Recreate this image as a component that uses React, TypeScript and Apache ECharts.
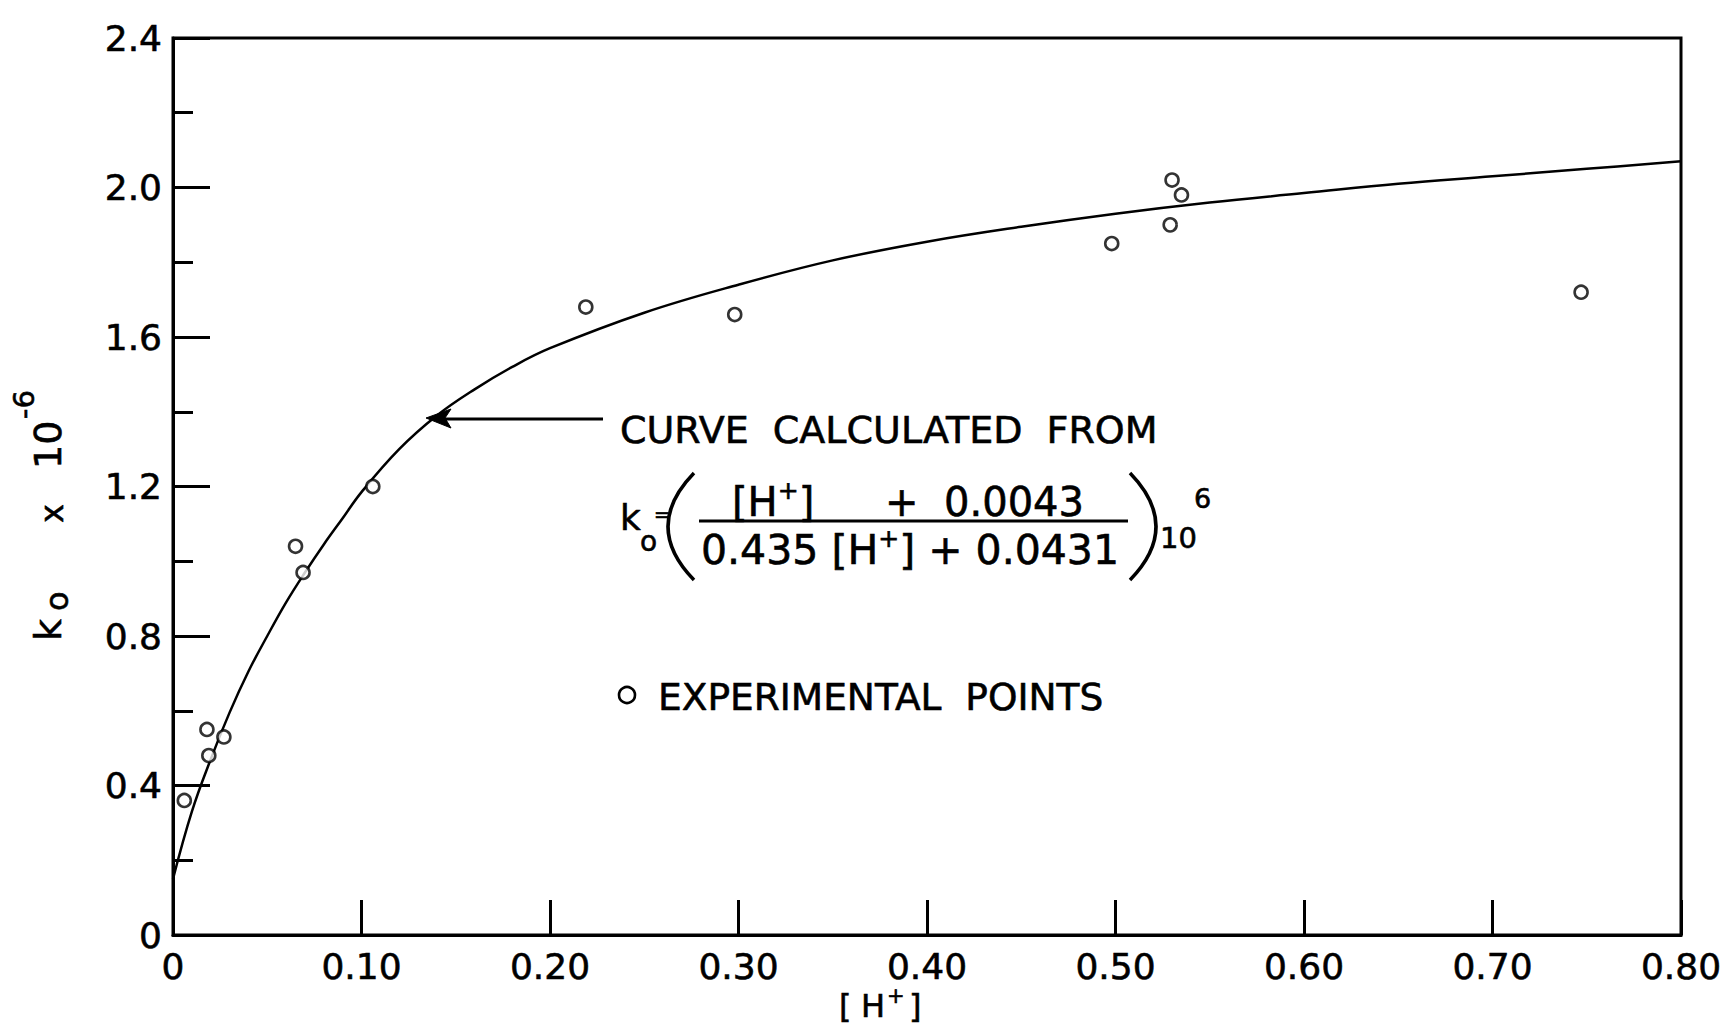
import React, { useEffect, useRef } from "react";
import * as echarts from "echarts";

// Experimental rate constants: [H+] (mol/L) and k0 x 10^-6
const hIon = [0.006, 0.018, 0.019, 0.027, 0.065, 0.069, 0.106, 0.219, 0.298, 0.498, 0.530, 0.529, 0.535, 0.747];
const kExp = [0.36, 0.55, 0.48, 0.53, 1.04, 0.97, 1.20, 1.68, 1.66, 1.85, 2.02, 1.90, 1.98, 1.72];

// Calculated curve, sampled along the plotted line
const curveH = [0, 0.01, 0.02, 0.03, 0.04, 0.05, 0.06, 0.07, 0.08, 0.09, 0.10, 0.12, 0.14, 0.16, 0.18, 0.20, 0.25, 0.30, 0.35, 0.40, 0.45, 0.50, 0.55, 0.60, 0.65, 0.70, 0.75, 0.80];
const curveK = [0.15, 0.33, 0.47, 0.595, 0.705, 0.80, 0.89, 0.97, 1.045, 1.115, 1.185, 1.30, 1.39, 1.46, 1.52, 1.57, 1.665, 1.74, 1.805, 1.855, 1.895, 1.93, 1.96, 1.985, 2.01, 2.03, 2.05, 2.07];

const FONT = '"DejaVu Sans", Verdana, sans-serif';
const INK = "#000";
// slight outline to give the lettering a heavier pen stroke
const PEN = { stroke: INK, lineWidth: 0.6 };

function txt(text: string, x: number, y: number, size: number, align = "left") {
  return {
    type: "text",
    x,
    y,
    z: 10,
    style: { text, fontFamily: FONT, fontSize: size, fill: INK, align, verticalAlign: "middle", ...PEN },
  };
}

export default function App() {
  const ref = useRef<HTMLDivElement>(null);

  useEffect(() => {
    document.body.style.margin = "0";
    const chart = echarts.init(ref.current!, null, { renderer: "svg" });

    const supRich = (main: number, sup: number, box: number) => ({
      m: { fontFamily: FONT, fontSize: main, fill: INK, lineHeight: box, verticalAlign: "bottom", ...PEN },
      s: { fontFamily: FONT, fontSize: sup, fill: INK, lineHeight: sup, verticalAlign: "top", ...PEN },
    });

    chart.setOption({
      animation: false,
      backgroundColor: "#fff",
      grid: {
        left: 173,
        right: 45,
        top: 38,
        bottom: 91,
        containLabel: false,
        outerBoundsMode: "none",
        show: true,
        borderColor: INK,
        borderWidth: 3,
      },
      xAxis: {
        type: "value",
        min: 0,
        max: 0.8,
        interval: 0.1,
        axisLine: { show: true, onZero: false, lineStyle: { color: INK, width: 3 } },
        axisTick: { show: true, inside: true, length: 35, lineStyle: { color: INK, width: 3 } },
        splitLine: { show: false },
        axisLabel: {
          color: INK,
          fontFamily: FONT,
          fontSize: 36,
          margin: 13,
          textBorderColor: INK,
          textBorderWidth: 0.6,
          formatter: (v: number) => (v === 0 ? "0" : v.toFixed(2)),
        },
      },
      yAxis: {
        type: "value",
        min: 0,
        max: 2.4,
        interval: 0.4,
        axisLine: { show: true, lineStyle: { color: INK, width: 3 } },
        axisTick: { show: true, inside: true, length: 37, lineStyle: { color: INK, width: 3 } },
        minorTick: { show: true, splitNumber: 2, length: 20, lineStyle: { color: INK, width: 3 } },
        splitLine: { show: false },
        minorSplitLine: { show: false },
        axisLabel: {
          color: INK,
          fontFamily: FONT,
          fontSize: 36,
          margin: 11,
          textBorderColor: INK,
          textBorderWidth: 0.6,
          formatter: (v: number) => (v === 0 ? "0" : v.toFixed(1)),
        },
      },
      series: [
        {
          name: "calculated",
          type: "line",
          data: curveH.map((h, i) => [h, curveK[i]]),
          smooth: 0.4,
          showSymbol: false,
          lineStyle: { color: INK, width: 2.5 },
          z: 2,
        },
        {
          name: "experimental",
          type: "scatter",
          data: hIon.map((h, i) => [h, kExp[i]]),
          symbol: "circle",
          symbolSize: 13,
          itemStyle: { color: "#fff", borderColor: INK, borderWidth: 2.6 },
          z: 3,
        },
      ],
      graphic: [
        // x-axis title: [H+]
        txt("[", 839, 1006, 32),
        txt("H", 861, 1006, 32),
        txt("+", 887, 996, 21),
        txt("]", 909, 1006, 32),
        // y-axis title: k_o x 10^-6, reading bottom to top
        {
          type: "group",
          x: 48,
          y: 641,
          rotation: Math.PI / 2,
          children: [
            txt("k", 0, 0, 38),
            txt("o", 30, 9, 32),
            txt("x", 118, 4, 32),
            txt("10", 172, 0, 38),
            txt("-6", 222, -24, 29),
          ],
        },
        // arrow pointing at the calculated curve
        { type: "line", z: 10, shape: { x1: 603, y1: 419, x2: 440, y2: 419 }, style: { stroke: INK, lineWidth: 3 } },
        {
          type: "polygon",
          z: 10,
          shape: { points: [[426, 418], [451, 409], [445, 418], [451, 428]] },
          style: { fill: INK, stroke: INK, lineWidth: 1 },
        },
        txt("CURVE  CALCULATED  FROM", 620, 430, 38),
        // k0 = ( numerator / denominator ) 10^6
        txt("k", 620, 517, 36),
        txt("o", 640, 541, 28),
        txt("=", 654, 514, 19),
        {
          type: "bezierCurve",
          z: 10,
          shape: { x1: 694, y1: 473, x2: 694, y2: 580, cpx1: 642, cpy1: 526.5 },
          style: { stroke: INK, lineWidth: 3.5, fill: "none" },
        },
        {
          type: "text",
          x: 732,
          y: 500,
          z: 10,
          style: {
            text: "{m|[H}{s|+}{m|]}",
            align: "left",
            verticalAlign: "middle",
            rich: supRich(40, 25, 44),
          },
        },
        txt("+  0.0043", 1084, 502, 40, "right"),
        { type: "line", z: 10, shape: { x1: 699, y1: 521, x2: 1128, y2: 521 }, style: { stroke: INK, lineWidth: 3 } },
        {
          type: "text",
          x: 910,
          y: 548,
          z: 10,
          style: {
            text: "{m|0.435 [H}{s|+}{m|] + 0.0431}",
            align: "center",
            verticalAlign: "middle",
            rich: supRich(41, 25, 45),
          },
        },
        {
          type: "bezierCurve",
          z: 10,
          shape: { x1: 1130, y1: 473, x2: 1130, y2: 580, cpx1: 1182, cpy1: 526.5 },
          style: { stroke: INK, lineWidth: 3.5, fill: "none" },
        },
        txt("10", 1160, 538, 29),
        txt("6", 1194, 498, 27),
        // legend
        { type: "circle", z: 10, shape: { cx: 627, cy: 695, r: 8 }, style: { fill: "#fff", stroke: INK, lineWidth: 2.6 } },
        txt("EXPERIMENTAL  POINTS", 658, 697, 37.5),
      ],
    });

    return () => chart.dispose();
  }, []);

  return (
    <div
      ref={ref}
      style={{ position: "fixed", left: 0, top: 0, width: 1726, height: 1026, background: "#fff" }}
    />
  );
}
